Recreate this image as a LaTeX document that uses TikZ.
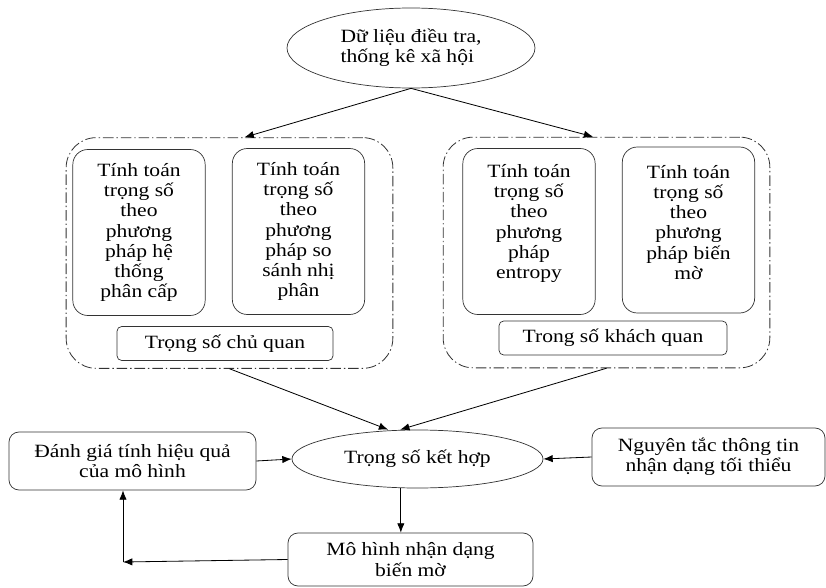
\documentclass[tikz,border=0pt]{standalone}
\usepackage{fontspec}
\setmainfont{Liberation Serif}[FakeStretch=1.15]
\usetikzlibrary{positioning,arrows.meta,shapes.geometric,calc}
\newcommand{\tscochu}{\fontsize{16pt}{17.3pt}\selectfont}
\tikzset{
  tskhoi/.style={draw=black!80, fill=white, rounded corners=0.45cm, align=center,
                 inner sep=2pt, minimum width=3.97cm, minimum height=4.98cm},
  tsnhom/.style={draw=black!80, rounded corners=0.9cm, line width=0.7pt,
                 dash pattern=on 9pt off 2.5pt on 1.2pt off 2.5pt,
                 minimum width=9.8cm, minimum height=6.92cm},
  tsnhan/.style={draw=black!80, fill=white, rounded corners=4pt, align=center,
                 inner sep=2pt, minimum height=1.02cm},
  tshop/.style={draw=black!80, fill=white, rounded corners=0.3cm, align=center,
                inner sep=2pt, minimum height=1.74cm},
  tselip/.style={draw=black!80, fill=white, ellipse, align=center, inner sep=0pt},
  tsmuiten/.style={-{Latex[length=2.8mm, width=2.2mm]}, line width=0.7pt},
}
\begin{document}
\begin{tikzpicture}[x=0.03cm, y=-0.03cm, font=\tscochu, line width=0.6pt]
        \useasboundingbox (0,0) rectangle (826,588);
        % ---------------- du lieu ----------------
        \node[tselip, align=left, minimum width=7.44cm, minimum height=2.4cm] (dulieu) at (411,48) {Dữ liệu điều tra,\\ thống kê xã hội};
        % ---------------- hai nhom trong so ----------------
        \node[tsnhom] (cq) at (229.5,253) {};
        \node[tsnhom] (kq) at (606.5,252.5) {};
        \node[tskhoi] (htpc) at (139,232.5) {Tính toán\\ trọng số\\ theo\\ phương\\ pháp hệ\\ thống\\ phân cấp};
        \node[tskhoi] (ssnp) at (298.5,231.5) {Tính toán\\ trọng số\\ theo\\ phương\\ pháp so\\ sánh nhị\\ phân};
        \node[tskhoi] (entropy) at (529,231.5) {Tính toán\\ trọng số\\ theo\\ phương\\ pháp\\ entropy\\ ~};
        \node[tskhoi] (bienmo) at (688.5,230) {Tính toán\\ trọng số\\ theo\\ phương\\ pháp biến\\ mờ\\[-4pt] ~};
        \node[tsnhan, minimum width=6.48cm] (nhancq) at (225,343.5) {Trọng số chủ quan};
        \node[tsnhan, minimum width=6.84cm] (nhankq) at (613,338) {Trong số khách quan};
        % ---------------- ket hop ----------------
        \node[tselip, minimum width=7.53cm, minimum height=1.74cm] (kethop) at (417.5,459) {Trọng số kết hợp};
        \node[tshop, minimum width=7.41cm] (danhgia) at (132.5,461) {Đánh giá tính hiệu quả\\ của mô hình};
        \node[tshop, minimum width=6.99cm] (nguyentac) at (708.5,457) {Nguyên tắc thông tin\\ nhận dạng tối thiểu};
        \node[tshop, minimum width=7.35cm, minimum height=1.59cm] (mohinh) at (410.5,559.5) {Mô hình nhận dạng\\ biến mờ};
        \coordinate (goc) at (123,562);
        % ---------------- mui ten ----------------
        \draw[tsmuiten] (dulieu.south) -- ([xshift=0.45cm]cq.north);
        \draw[tsmuiten] (dulieu.south) -- ([xshift=-0.4cm]kq.north);
        \draw[tsmuiten] (cq.south) -- ([xshift=-0.88cm]kethop.north);
        \draw[tsmuiten] (kq.south) -- ([xshift=-0.52cm]kethop.north);
        \draw[tsmuiten] (danhgia.east) -- (kethop.west);
        \draw[tsmuiten] (nguyentac.west) -- (kethop.east);
        \draw[tsmuiten] ([xshift=-0.5cm]kethop.south) -- ([xshift=-0.5cm]kethop.south |- mohinh.north);
        \draw[tsmuiten] (mohinh.west) -- (goc);
        \draw[tsmuiten] (goc) -- (goc |- danhgia.south);
    \end{tikzpicture}
\end{document}
